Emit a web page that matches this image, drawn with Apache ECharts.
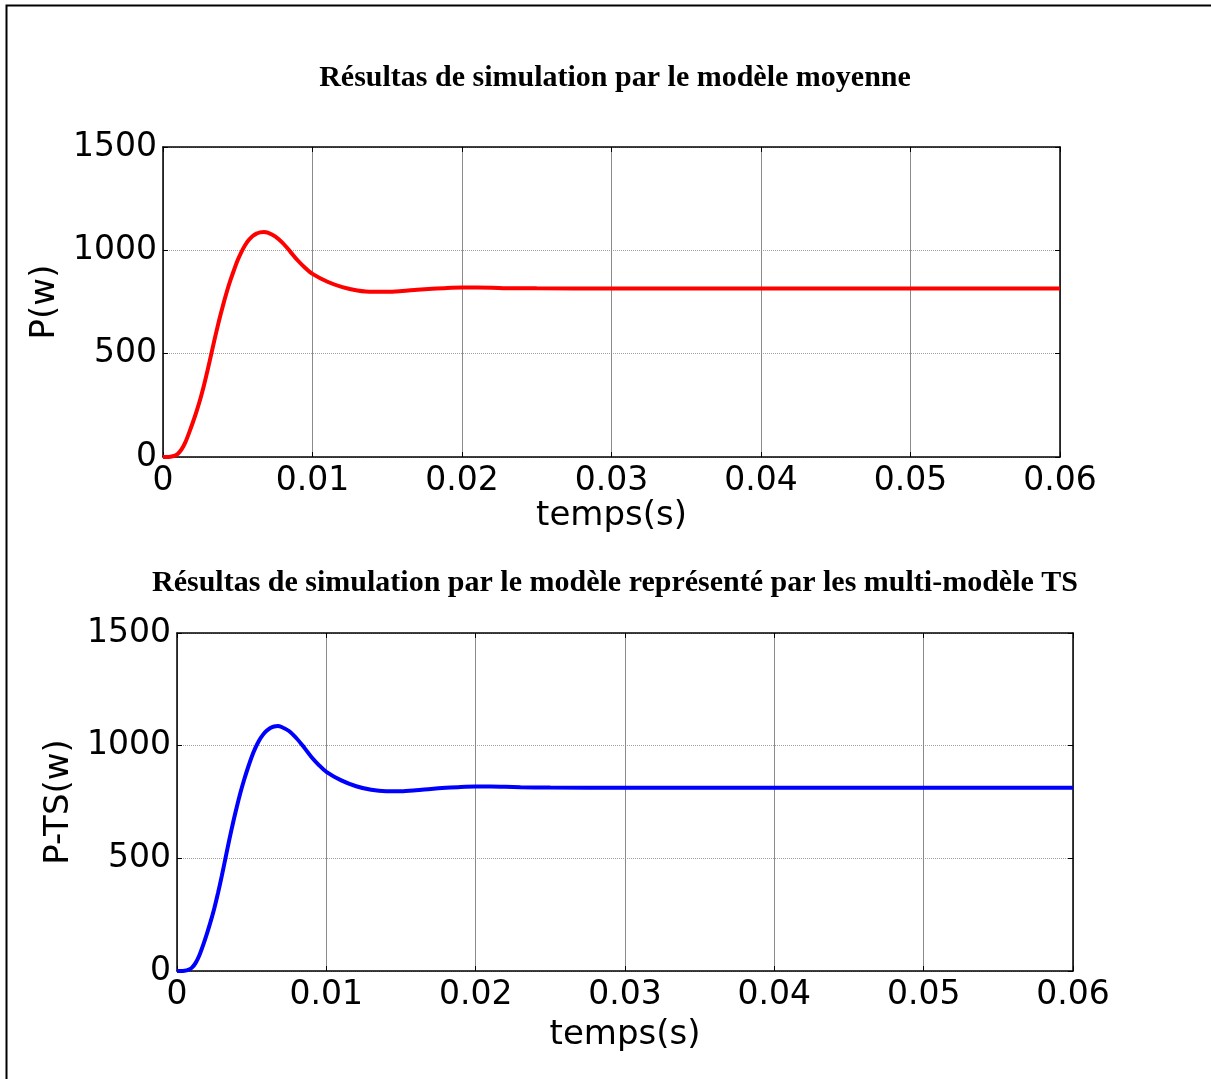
<!DOCTYPE html>
<html>
<head>
<meta charset="utf-8">
<script src="https://cdn.jsdelivr.net/npm/echarts@6/dist/echarts.min.js"></script>
<style>
html,body{margin:0;padding:0;background:#fff;}
#c{width:1211px;height:1079px;}
</style>
</head>
<body>
<div id="c"></div>
<script>
// ---- data ----
var titleTop = 'Résultas de simulation par le modèle moyenne';
var titleBottom = 'Résultas de simulation par le modèle représenté par les multi-modèle TS';
var xName = 'temps(s)';
var yNameTop = 'P(w)';
var yNameBottom = 'P-TS(w)';

var timeTop = [0, 0.00025, 0.0005, 0.00075, 0.001, 0.00125, 0.0015, 0.00175, 0.002, 0.00225, 0.0025, 0.00275, 0.003, 0.00325, 0.0035, 0.00375, 0.004, 0.00425, 0.0045, 0.00475, 0.005, 0.00525, 0.0055, 0.00575, 0.006, 0.00625, 0.0065, 0.00675, 0.007, 0.0075, 0.008, 0.0085, 0.009, 0.0095, 0.010, 0.011, 0.012, 0.013, 0.014, 0.015, 0.016, 0.017, 0.018, 0.019, 0.020, 0.021, 0.022, 0.023, 0.025, 0.030, 0.040, 0.050, 0.060];
var powerTop = [0, 0, 1, 5, 16, 38, 72, 118, 168, 222, 282, 350, 425, 505, 585, 660, 730, 795, 853, 905, 953, 993, 1026, 1051, 1069, 1081, 1087, 1089, 1086, 1068, 1036, 995, 952, 916, 886, 848, 822, 806, 799, 799, 803, 809, 814, 818, 820, 820, 819, 817, 816, 815, 815, 815, 815];

var timeBottom = [0, 0.00025, 0.0005, 0.00075, 0.001, 0.00125, 0.0015, 0.00175, 0.002, 0.00225, 0.0025, 0.00275, 0.003, 0.00325, 0.0035, 0.00375, 0.004, 0.00425, 0.0045, 0.00475, 0.005, 0.00525, 0.0055, 0.00575, 0.006, 0.00625, 0.0065, 0.00675, 0.007, 0.0075, 0.008, 0.0085, 0.009, 0.0095, 0.010, 0.011, 0.012, 0.013, 0.014, 0.015, 0.016, 0.017, 0.018, 0.019, 0.020, 0.021, 0.022, 0.023, 0.025, 0.030, 0.040, 0.050, 0.060];
var powerBottom = [0, 0, 1, 5, 15, 36, 70, 115, 165, 219, 279, 347, 422, 502, 582, 657, 727, 792, 850, 902, 950, 990, 1023, 1048, 1066, 1078, 1085, 1087, 1083, 1065, 1033, 993, 950, 914, 884, 846, 820, 804, 798, 798, 802, 808, 813, 817, 819, 819, 818, 816, 814, 813, 813, 813, 813];

var xTicks = {min: 0, max: 0.06, interval: 0.01};
var yTicks = {min: 0, max: 1500, interval: 500};

function pairs(t, v) { return t.map(function (x, i) { return [x, v[i]]; }); }

var tickFont = 'DejaVu Sans';
function xLabelFmt(v) { return v === 0 ? '0' : v.toFixed(2); }
function yLabelFmt(v) { return String(v); }

function mainX(gi, fs, nfs, nameGap) {
  return {
    type: 'value', gridIndex: gi, min: xTicks.min, max: xTicks.max, interval: xTicks.interval,
    name: xName, nameLocation: 'middle', nameGap: nameGap,
    nameTextStyle: {fontFamily: tickFont, fontSize: nfs, color: '#000'},
    axisLine: {show: true, onZero: false, lineStyle: {color: '#000', width: 1.5}},
    axisTick: {show: true, inside: true, length: 5, lineStyle: {color: '#000'}},
    axisLabel: {fontFamily: tickFont, fontSize: fs, color: '#000', margin: 8, formatter: xLabelFmt},
    splitLine: {show: true, lineStyle: {color: '#8a8a8a', width: 1}}
  };
}
function topX(gi) {
  return {
    type: 'value', gridIndex: gi, position: 'top', min: xTicks.min, max: xTicks.max, interval: xTicks.interval,
    axisLine: {show: true, onZero: false, lineStyle: {color: '#000', width: 1.5}},
    axisTick: {show: true, inside: true, length: 5, lineStyle: {color: '#000'}},
    axisLabel: {show: false}, splitLine: {show: false}
  };
}
function mainY(gi, fs, nfs, name, nameGap) {
  return {
    type: 'value', gridIndex: gi, min: yTicks.min, max: yTicks.max, interval: yTicks.interval,
    name: name, nameLocation: 'middle', nameGap: nameGap, nameRotate: 90,
    nameTextStyle: {fontFamily: tickFont, fontSize: nfs, color: '#000'},
    axisLine: {show: true, onZero: false, lineStyle: {color: '#000', width: 1.5}},
    axisTick: {show: true, inside: true, length: 5, lineStyle: {color: '#000'}},
    axisLabel: {fontFamily: tickFont, fontSize: fs, color: '#000', margin: 6, formatter: yLabelFmt},
    splitLine: {show: true, lineStyle: {color: '#a0a0a0', width: 1, type: [1, 1]}}
  };
}
function rightY(gi) {
  return {
    type: 'value', gridIndex: gi, position: 'right', min: yTicks.min, max: yTicks.max, interval: yTicks.interval,
    axisLine: {show: true, onZero: false, lineStyle: {color: '#000', width: 1.5}},
    axisTick: {show: true, inside: true, length: 5, lineStyle: {color: '#000'}},
    axisLabel: {show: false}, splitLine: {show: false}
  };
}

var chart = echarts.init(document.getElementById('c'), null, {renderer: 'canvas'});
chart.setOption({
  backgroundColor: '#fff',
  animation: false,
  title: [
    {text: titleTop, left: 610, top: 58, textAlign: 'center',
     textStyle: {fontFamily: 'Liberation Serif', fontWeight: 'bold', fontSize: 30, color: '#000'}},
    {text: titleBottom, left: 610, top: 563, textAlign: 'center',
     textStyle: {fontFamily: 'Liberation Serif', fontWeight: 'bold', fontSize: 30, color: '#000'}}
  ],
  graphic: [
    {type: 'rect', left: 4, top: 3, silent: true, z: 100,
     shape: {width: 1240, height: 1110}, style: {fill: 'none', stroke: '#000', lineWidth: 2}}
  ],
  grid: [
    {left: 163, top: 147, width: 897, height: 310, containLabel: false},
    {left: 177, top: 633, width: 896, height: 338, containLabel: false}
  ],
  xAxis: [mainX(0, 33, 34, 37), topX(0), mainX(1, 33, 34, 47), topX(1)],
  yAxis: [mainY(0, 33, 34, yNameTop, 96), rightY(0), mainY(1, 33, 34, yNameBottom, 99), rightY(1)],
  series: [
    {type: 'line', xAxisIndex: 0, yAxisIndex: 0, data: pairs(timeTop, powerTop), smooth: 0.3,
     showSymbol: false, lineStyle: {color: '#ff0000', width: 4}},
    {type: 'line', xAxisIndex: 2, yAxisIndex: 2, data: pairs(timeBottom, powerBottom), smooth: 0.3,
     showSymbol: false, lineStyle: {color: '#0000ff', width: 4}}
  ]
});
</script>
</body>
</html>
